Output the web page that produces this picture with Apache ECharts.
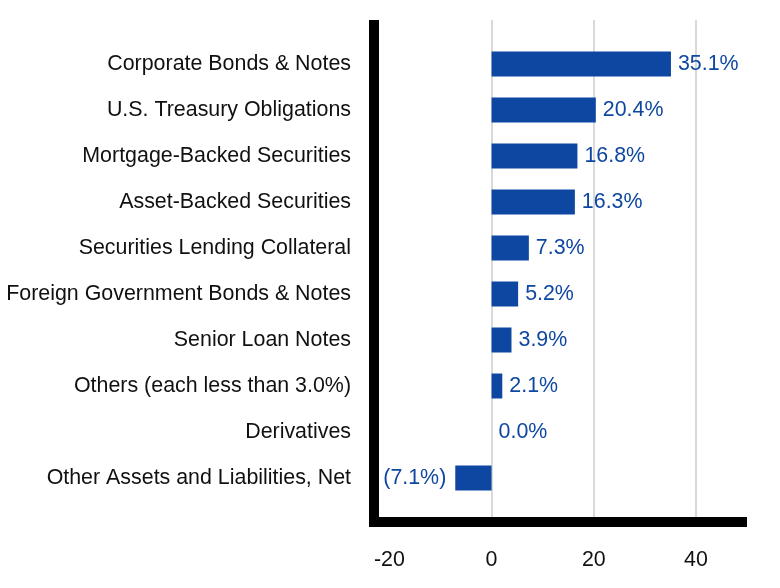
<!DOCTYPE html>
<html>
<head>
<meta charset="utf-8">
<script src="https://cdn.jsdelivr.net/npm/echarts@6/dist/echarts.min.js"></script>
<style>
  html, body { margin: 0; padding: 0; background: #fff; }
  #chart { width: 780px; height: 588px; }
</style>
</head>
<body>
<div id="chart"></div>
<script>
const categories = [
    'Corporate Bonds & Notes',
    'U.S. Treasury Obligations',
    'Mortgage-Backed Securities',
    'Asset-Backed Securities',
    'Securities Lending Collateral',
    'Foreign Government Bonds & Notes',
    'Senior Loan Notes',
    'Others (each less than 3.0%)',
    'Derivatives',
    'Other Assets and Liabilities, Net'
];
const weights = [35.1, 20.4, 16.8, 16.3, 7.3, 5.2, 3.9, 2.1, 0.0, -7.1];
const xMin = -23;
const xMax = 49;

const blue = '#0e47a1';
const font = 'Liberation Sans, Arial, sans-serif';
const plotLeft = 374, plotRight = 38;

const fmt = v => v < 0 ? '(' + Math.abs(v).toFixed(1) + '%)' : v.toFixed(1) + '%';

const myChart = echarts.init(document.getElementById('chart'));

// gridlines only from 0 upward: a separate grid starting where x = 0
const plotWidth = 780 - plotLeft - plotRight;
const zeroLeft = plotLeft + (0 - xMin) / (xMax - xMin) * plotWidth;

myChart.setOption({
    animation: false,
    textStyle: { fontFamily: font },
    grid: [
        { left: zeroLeft, right: plotRight, top: 20, bottom: 66 },   // gridlines
        { left: plotLeft, right: plotRight, top: 20, bottom: 66 },   // thick frame + ticks
        { left: plotLeft, right: plotRight, top: 41, bottom: 87 }    // bars
    ],
    xAxis: [
        {
            gridIndex: 0, type: 'value', min: 0, max: xMax, splitNumber: 2,
            axisLine: { show: false }, axisTick: { show: false }, axisLabel: { show: false },
            splitLine: {
                show: true, showMinLine: true, showMaxLine: false,
                lineStyle: { color: '#d9d9d9', width: 2 }
            }
        },
        {
            gridIndex: 1, type: 'value', min: xMin, max: xMax, splitNumber: 3,
            axisLine: { show: true, onZero: false, lineStyle: { color: '#000', width: 10, cap: 'square' } },
            axisTick: { show: false },
            axisLabel: {
                fontSize: 21.4, color: '#111', margin: 28,
                showMinLabel: false, showMaxLabel: false
            },
            splitLine: { show: false }
        },
        { gridIndex: 2, type: 'value', min: xMin, max: xMax, show: false }
    ],
    yAxis: [
        { gridIndex: 0, type: 'value', min: 0, max: 1, show: false },
        {
            gridIndex: 1, type: 'value', min: 0, max: 1,
            axisLine: { show: true, onZero: false, lineStyle: { color: '#000', width: 10, cap: 'butt' } },
            axisTick: { show: false },
            axisLabel: { show: false },
            splitLine: { show: false }
        },
        {
            gridIndex: 2, type: 'category', data: categories, inverse: true,
            axisLine: { show: false },
            axisTick: { show: false },
            axisLabel: { fontSize: 21.4, color: '#111', margin: 23, padding: [3, 0, 0, 0] }
        }
    ],
    series: [{
        type: 'bar',
        xAxisIndex: 2,
        yAxisIndex: 2,
        barWidth: 25,
        itemStyle: { color: blue },
        data: weights.map(v => ({
            value: v,
            label: v < 0 ? { position: 'left', distance: 9 } : { position: 'right', distance: 7 }
        })),
        label: {
            show: true,
            fontSize: 21.4,
            color: blue,
            padding: [2, 0, 0, 0],
            formatter: p => fmt(p.value)
        }
    }]
});
</script>
</body>
</html>
